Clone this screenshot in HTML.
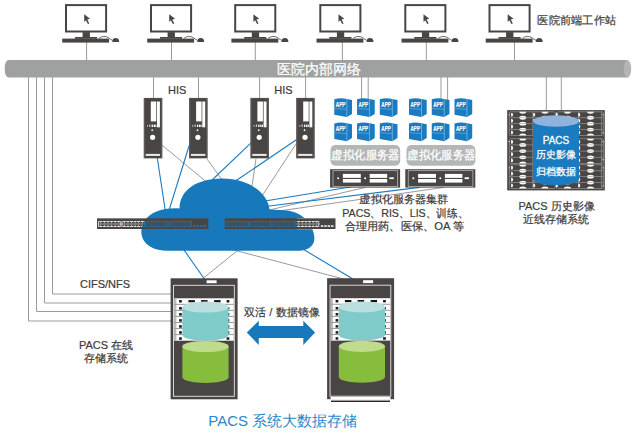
<!DOCTYPE html>
<html><head><meta charset="utf-8">
<style>
html,body{margin:0;padding:0;background:#fff;width:638px;height:438px;overflow:hidden}
svg{display:block}
text{font-family:"Liberation Sans",sans-serif}
.tx{stroke:#3e3a39;stroke-width:0.2}
.tw{stroke:#fff;stroke-width:0.25}
</style></head>
<body>
<svg width="638" height="438" viewBox="0 0 638 438">
<defs>
<g id="pc">
<rect x="1.0" y="1.0" width="40.1" height="26.4" fill="#fff" stroke="#4a4545" stroke-width="2.0"/>
<path d="M19.2 10.1 L25 14.7 L22.3 15.4 L24.3 19.3 L22.9 20 L20.9 16.2 L19.2 18 Z" fill="#4a4545"/>
<rect x="17.6" y="28" width="7.3" height="5.4" fill="#4a4545"/>
<rect x="10" y="32.9" width="22.1" height="1.8" fill="#4a4545"/>
<rect x="-2.8" y="34.5" width="46.9" height="4" fill="#4a4545"/>
<path d="M33.8 34.4 Q38.5 30.6 43.5 33.6 Q45.5 35.6 47.5 36.2" fill="none" stroke="#4a4545" stroke-width="0.8"/>
<path d="M47.2 37.9 Q47.2 33.8 50.7 33.8 Q54.2 33.8 54.2 37.9 Z" fill="#4a4545"/>
</g>
<g id="srv">
<rect x="0" y="0" width="18.7" height="60.5" fill="#5e5a5a"/>
<rect x="1.4" y="0.6" width="15.9" height="59.4" fill="#4a4545"/>
<rect x="7.1" y="3.6" width="5.5" height="19.9" fill="#fff"/>
<rect x="13.3" y="3.6" width="2.9" height="25.8" fill="#fff"/>
<rect x="3.3" y="27.2" width="0.9" height="1.6" fill="#ddd"/>
<rect x="5.6" y="26.7" width="1" height="2.1" fill="#eee"/>
<rect x="7.9" y="26.7" width="1.3" height="2.4" fill="#fff"/>
<rect x="10" y="26.7" width="1.3" height="2.4" fill="#fff"/>
<rect x="11.6" y="26.7" width="1" height="2.4" fill="#fff"/>
<path d="M8.5 31.2 L9.6 32.3 L8.5 33.4 L7.4 32.3 Z" fill="#fff"/>
<circle cx="8.9" cy="39.4" r="2.6" fill="#fff"/>
<rect x="2" y="56" width="14.3" height="2" fill="#ececec"/>
</g>
<g id="app">
<path d="M0 1.4 Q6 -0.5 12.5 1.1 L17.7 2.2 L17.7 16 L12.5 19.1 L0 16.8 Z" fill="#1a7bc0"/>
<path d="M12.5 1.3 L12.5 19" stroke="#8cc0e8" stroke-width="0.7"/>
<text x="6.3" y="9.4" font-size="7.6" font-weight="bold" fill="#fff" stroke="#fff" stroke-width="0.15" text-anchor="middle" textLength="9.6" lengthAdjust="spacingAndGlyphs">APP</text>
<path d="M0.6 10.6 L12.3 11.4" stroke="#8cc0e8" stroke-width="0.5"/>
</g>
<g id="unit">
<rect x="0" y="0" width="70" height="18.4" fill="#4a4545"/>
<rect x="2.9" y="1.5" width="64.7" height="15.8" fill="none" stroke="#c8c6c6" stroke-width="0.7"/>
<rect x="12.8" y="4.7" width="17.9" height="4" fill="#fff"/>
<rect x="12.8" y="9.8" width="17.9" height="3.6" fill="#fff"/>
<rect x="39.6" y="4.7" width="17.5" height="4" fill="#fff"/>
<rect x="39.6" y="9.8" width="17.5" height="3.6" fill="#fff"/>
<circle cx="8" cy="9" r="1" fill="#fff"/>
<circle cx="35" cy="9" r="1" fill="#fff"/>
<rect x="59.3" y="8.1" width="4.4" height="1.8" fill="#fff"/>
</g>
<g id="rack">
<rect x="0" y="0" width="67" height="121" fill="#4a4545"/>
<rect x="36" y="2" width="10" height="2.9" fill="#fff"/>
<rect x="2.95" y="7.0" width="60.75" height="111" fill="none" stroke="#e8e6e6" stroke-width="0.9"/>
<rect x="3.8" y="20" width="59.4" height="42.4" fill="#fff"/>
<rect x="3.8" y="20" width="2" height="42.4" fill="#bbb"/>
<rect x="3.8" y="25.55" width="59.4" height="1" fill="#9a9898"/>
<rect x="3.8" y="31.6" width="59.4" height="1" fill="#9a9898"/>
<rect x="3.8" y="37.65" width="59.4" height="1" fill="#9a9898"/>
<rect x="3.8" y="43.7" width="59.4" height="1" fill="#9a9898"/>
<rect x="3.8" y="49.75" width="59.4" height="1" fill="#9a9898"/>
<rect x="3.8" y="55.8" width="59.4" height="1" fill="#9a9898"/>
<rect x="8.5" y="21.8" width="2.7" height="2.4" fill="#111"/>
<rect x="17.8" y="21.8" width="6.5" height="2.2" fill="#111"/>
<rect x="30.5" y="21.8" width="6.5" height="2.2" fill="#111"/>
<rect x="43.5" y="21.8" width="6.5" height="2.2" fill="#111"/>
<rect x="56" y="21.8" width="2.7" height="2.4" fill="#111"/>
<rect x="8.5" y="28.75" width="2.7" height="2.5" fill="#1a1a1a"/>
<rect x="56" y="28.75" width="2.7" height="2.5" fill="#1a1a1a"/>
<rect x="8.5" y="34.8" width="2.7" height="2.5" fill="#1a1a1a"/>
<rect x="56" y="34.8" width="2.7" height="2.5" fill="#1a1a1a"/>
<rect x="8.5" y="40.85" width="2.7" height="2.5" fill="#1a1a1a"/>
<rect x="56" y="40.85" width="2.7" height="2.5" fill="#1a1a1a"/>
<rect x="8.5" y="46.9" width="2.7" height="2.5" fill="#1a1a1a"/>
<rect x="56" y="46.9" width="2.7" height="2.5" fill="#1a1a1a"/>
<rect x="8.5" y="52.95" width="2.7" height="2.5" fill="#1a1a1a"/>
<rect x="56" y="52.95" width="2.7" height="2.5" fill="#1a1a1a"/>
<rect x="8.5" y="59" width="2.7" height="2.5" fill="#1a1a1a"/>
<rect x="56" y="59" width="2.7" height="2.5" fill="#1a1a1a"/>
</g>
<g id="cyl">
<path d="M0 6 L0 34 A23.1 5.6 0 0 0 46.2 34 L46.2 6 Z" fill="#7ecbc9"/>
<ellipse cx="23.1" cy="6" rx="23.1" ry="5.5" fill="#badfde"/>
<path d="M0 45.4 L0 76.2 A23.1 5.6 0 0 0 46.2 76.2 L46.2 45.4 Z" fill="#86bd3c"/>
<ellipse cx="23.1" cy="45.4" rx="23.1" ry="5.6" fill="#bedc8c"/>
</g>
<mask id="swm1" maskUnits="userSpaceOnUse" x="96.9" y="218.2" width="111.7" height="11">
<rect x="96.9" y="218.2" width="111.7" height="11" fill="#fff"/>
<rect x="98.1" y="223.4" width="94.2" height="1.2" fill="#999"/>
<rect x="98.1" y="221" width="0.8" height="6" fill="#222"/>
<rect x="120.45" y="221" width="0.8" height="6" fill="#222"/>
<rect x="99.3" y="221" width="2.99" height="0.9" fill="#111"/>
<rect x="99.3" y="226.1" width="2.99" height="0.9" fill="#111"/>
<rect x="100.45" y="221.9" width="0.7" height="1.3" fill="#444"/>
<rect x="100.45" y="224.8" width="0.7" height="1.3" fill="#444"/>
<rect x="102.89" y="221" width="2.99" height="0.9" fill="#111"/>
<rect x="102.89" y="226.1" width="2.99" height="0.9" fill="#111"/>
<rect x="104.04" y="221.9" width="0.7" height="1.3" fill="#444"/>
<rect x="104.04" y="224.8" width="0.7" height="1.3" fill="#444"/>
<rect x="106.48" y="221" width="2.99" height="0.9" fill="#111"/>
<rect x="106.48" y="226.1" width="2.99" height="0.9" fill="#111"/>
<rect x="107.63" y="221.9" width="0.7" height="1.3" fill="#444"/>
<rect x="107.63" y="224.8" width="0.7" height="1.3" fill="#444"/>
<rect x="110.08" y="221" width="2.99" height="0.9" fill="#111"/>
<rect x="110.08" y="226.1" width="2.99" height="0.9" fill="#111"/>
<rect x="111.22" y="221.9" width="0.7" height="1.3" fill="#444"/>
<rect x="111.22" y="224.8" width="0.7" height="1.3" fill="#444"/>
<rect x="113.67" y="221" width="2.99" height="0.9" fill="#111"/>
<rect x="113.67" y="226.1" width="2.99" height="0.9" fill="#111"/>
<rect x="114.81" y="221.9" width="0.7" height="1.3" fill="#444"/>
<rect x="114.81" y="224.8" width="0.7" height="1.3" fill="#444"/>
<rect x="117.26" y="221" width="2.99" height="0.9" fill="#111"/>
<rect x="117.26" y="226.1" width="2.99" height="0.9" fill="#111"/>
<rect x="118.4" y="221.9" width="0.7" height="1.3" fill="#444"/>
<rect x="118.4" y="224.8" width="0.7" height="1.3" fill="#444"/>
<rect x="121.65" y="221" width="0.8" height="6" fill="#222"/>
<rect x="144" y="221" width="0.8" height="6" fill="#222"/>
<rect x="122.85" y="221" width="2.99" height="0.9" fill="#111"/>
<rect x="122.85" y="226.1" width="2.99" height="0.9" fill="#111"/>
<rect x="124" y="221.9" width="0.7" height="1.3" fill="#444"/>
<rect x="124" y="224.8" width="0.7" height="1.3" fill="#444"/>
<rect x="126.44" y="221" width="2.99" height="0.9" fill="#111"/>
<rect x="126.44" y="226.1" width="2.99" height="0.9" fill="#111"/>
<rect x="127.59" y="221.9" width="0.7" height="1.3" fill="#444"/>
<rect x="127.59" y="224.8" width="0.7" height="1.3" fill="#444"/>
<rect x="130.03" y="221" width="2.99" height="0.9" fill="#111"/>
<rect x="130.03" y="226.1" width="2.99" height="0.9" fill="#111"/>
<rect x="131.18" y="221.9" width="0.7" height="1.3" fill="#444"/>
<rect x="131.18" y="224.8" width="0.7" height="1.3" fill="#444"/>
<rect x="133.63" y="221" width="2.99" height="0.9" fill="#111"/>
<rect x="133.63" y="226.1" width="2.99" height="0.9" fill="#111"/>
<rect x="134.77" y="221.9" width="0.7" height="1.3" fill="#444"/>
<rect x="134.77" y="224.8" width="0.7" height="1.3" fill="#444"/>
<rect x="137.22" y="221" width="2.99" height="0.9" fill="#111"/>
<rect x="137.22" y="226.1" width="2.99" height="0.9" fill="#111"/>
<rect x="138.36" y="221.9" width="0.7" height="1.3" fill="#444"/>
<rect x="138.36" y="224.8" width="0.7" height="1.3" fill="#444"/>
<rect x="140.81" y="221" width="2.99" height="0.9" fill="#111"/>
<rect x="140.81" y="226.1" width="2.99" height="0.9" fill="#111"/>
<rect x="141.95" y="221.9" width="0.7" height="1.3" fill="#444"/>
<rect x="141.95" y="224.8" width="0.7" height="1.3" fill="#444"/>
<rect x="145.2" y="221" width="0.8" height="6" fill="#222"/>
<rect x="167.55" y="221" width="0.8" height="6" fill="#222"/>
<rect x="146.4" y="221" width="2.99" height="0.9" fill="#111"/>
<rect x="146.4" y="226.1" width="2.99" height="0.9" fill="#111"/>
<rect x="147.55" y="221.9" width="0.7" height="1.3" fill="#444"/>
<rect x="147.55" y="224.8" width="0.7" height="1.3" fill="#444"/>
<rect x="149.99" y="221" width="2.99" height="0.9" fill="#111"/>
<rect x="149.99" y="226.1" width="2.99" height="0.9" fill="#111"/>
<rect x="151.14" y="221.9" width="0.7" height="1.3" fill="#444"/>
<rect x="151.14" y="224.8" width="0.7" height="1.3" fill="#444"/>
<rect x="153.58" y="221" width="2.99" height="0.9" fill="#111"/>
<rect x="153.58" y="226.1" width="2.99" height="0.9" fill="#111"/>
<rect x="154.73" y="221.9" width="0.7" height="1.3" fill="#444"/>
<rect x="154.73" y="224.8" width="0.7" height="1.3" fill="#444"/>
<rect x="157.18" y="221" width="2.99" height="0.9" fill="#111"/>
<rect x="157.18" y="226.1" width="2.99" height="0.9" fill="#111"/>
<rect x="158.32" y="221.9" width="0.7" height="1.3" fill="#444"/>
<rect x="158.32" y="224.8" width="0.7" height="1.3" fill="#444"/>
<rect x="160.77" y="221" width="2.99" height="0.9" fill="#111"/>
<rect x="160.77" y="226.1" width="2.99" height="0.9" fill="#111"/>
<rect x="161.91" y="221.9" width="0.7" height="1.3" fill="#444"/>
<rect x="161.91" y="224.8" width="0.7" height="1.3" fill="#444"/>
<rect x="164.36" y="221" width="2.99" height="0.9" fill="#111"/>
<rect x="164.36" y="226.1" width="2.99" height="0.9" fill="#111"/>
<rect x="165.5" y="221.9" width="0.7" height="1.3" fill="#444"/>
<rect x="165.5" y="224.8" width="0.7" height="1.3" fill="#444"/>
<rect x="168.75" y="221" width="0.8" height="6" fill="#222"/>
<rect x="191.1" y="221" width="0.8" height="6" fill="#222"/>
<rect x="169.95" y="221" width="2.99" height="0.9" fill="#111"/>
<rect x="169.95" y="226.1" width="2.99" height="0.9" fill="#111"/>
<rect x="171.1" y="221.9" width="0.7" height="1.3" fill="#444"/>
<rect x="171.1" y="224.8" width="0.7" height="1.3" fill="#444"/>
<rect x="173.54" y="221" width="2.99" height="0.9" fill="#111"/>
<rect x="173.54" y="226.1" width="2.99" height="0.9" fill="#111"/>
<rect x="174.69" y="221.9" width="0.7" height="1.3" fill="#444"/>
<rect x="174.69" y="224.8" width="0.7" height="1.3" fill="#444"/>
<rect x="177.13" y="221" width="2.99" height="0.9" fill="#111"/>
<rect x="177.13" y="226.1" width="2.99" height="0.9" fill="#111"/>
<rect x="178.28" y="221.9" width="0.7" height="1.3" fill="#444"/>
<rect x="178.28" y="224.8" width="0.7" height="1.3" fill="#444"/>
<rect x="180.73" y="221" width="2.99" height="0.9" fill="#111"/>
<rect x="180.73" y="226.1" width="2.99" height="0.9" fill="#111"/>
<rect x="181.87" y="221.9" width="0.7" height="1.3" fill="#444"/>
<rect x="181.87" y="224.8" width="0.7" height="1.3" fill="#444"/>
<rect x="184.32" y="221" width="2.99" height="0.9" fill="#111"/>
<rect x="184.32" y="226.1" width="2.99" height="0.9" fill="#111"/>
<rect x="185.46" y="221.9" width="0.7" height="1.3" fill="#444"/>
<rect x="185.46" y="224.8" width="0.7" height="1.3" fill="#444"/>
<rect x="187.91" y="221" width="2.99" height="0.9" fill="#111"/>
<rect x="187.91" y="226.1" width="2.99" height="0.9" fill="#111"/>
<rect x="189.05" y="221.9" width="0.7" height="1.3" fill="#444"/>
<rect x="189.05" y="224.8" width="0.7" height="1.3" fill="#444"/>
<rect x="193.4" y="225.3" width="2.5" height="1.5" fill="#000"/>
<rect x="196.8" y="225.3" width="2.5" height="1.5" fill="#000"/>
<rect x="200.2" y="225.3" width="2.5" height="1.5" fill="#000"/>
<rect x="203.6" y="225.3" width="2.5" height="1.5" fill="#000"/>
</mask>
<mask id="swm2" maskUnits="userSpaceOnUse" x="224.4" y="218.2" width="111.3" height="11">
<rect x="224.4" y="218.2" width="111.3" height="11" fill="#fff"/>
<rect x="225.6" y="223.4" width="94" height="1.2" fill="#999"/>
<rect x="225.6" y="221" width="0.8" height="6" fill="#222"/>
<rect x="247.9" y="221" width="0.8" height="6" fill="#222"/>
<rect x="226.8" y="221" width="2.98" height="0.9" fill="#111"/>
<rect x="226.8" y="226.1" width="2.98" height="0.9" fill="#111"/>
<rect x="227.94" y="221.9" width="0.7" height="1.3" fill="#444"/>
<rect x="227.94" y="224.8" width="0.7" height="1.3" fill="#444"/>
<rect x="230.38" y="221" width="2.98" height="0.9" fill="#111"/>
<rect x="230.38" y="226.1" width="2.98" height="0.9" fill="#111"/>
<rect x="231.53" y="221.9" width="0.7" height="1.3" fill="#444"/>
<rect x="231.53" y="224.8" width="0.7" height="1.3" fill="#444"/>
<rect x="233.97" y="221" width="2.98" height="0.9" fill="#111"/>
<rect x="233.97" y="226.1" width="2.98" height="0.9" fill="#111"/>
<rect x="235.11" y="221.9" width="0.7" height="1.3" fill="#444"/>
<rect x="235.11" y="224.8" width="0.7" height="1.3" fill="#444"/>
<rect x="237.55" y="221" width="2.98" height="0.9" fill="#111"/>
<rect x="237.55" y="226.1" width="2.98" height="0.9" fill="#111"/>
<rect x="238.69" y="221.9" width="0.7" height="1.3" fill="#444"/>
<rect x="238.69" y="224.8" width="0.7" height="1.3" fill="#444"/>
<rect x="241.13" y="221" width="2.98" height="0.9" fill="#111"/>
<rect x="241.13" y="226.1" width="2.98" height="0.9" fill="#111"/>
<rect x="242.28" y="221.9" width="0.7" height="1.3" fill="#444"/>
<rect x="242.28" y="224.8" width="0.7" height="1.3" fill="#444"/>
<rect x="244.72" y="221" width="2.98" height="0.9" fill="#111"/>
<rect x="244.72" y="226.1" width="2.98" height="0.9" fill="#111"/>
<rect x="245.86" y="221.9" width="0.7" height="1.3" fill="#444"/>
<rect x="245.86" y="224.8" width="0.7" height="1.3" fill="#444"/>
<rect x="249.1" y="221" width="0.8" height="6" fill="#222"/>
<rect x="271.4" y="221" width="0.8" height="6" fill="#222"/>
<rect x="250.3" y="221" width="2.98" height="0.9" fill="#111"/>
<rect x="250.3" y="226.1" width="2.98" height="0.9" fill="#111"/>
<rect x="251.44" y="221.9" width="0.7" height="1.3" fill="#444"/>
<rect x="251.44" y="224.8" width="0.7" height="1.3" fill="#444"/>
<rect x="253.88" y="221" width="2.98" height="0.9" fill="#111"/>
<rect x="253.88" y="226.1" width="2.98" height="0.9" fill="#111"/>
<rect x="255.03" y="221.9" width="0.7" height="1.3" fill="#444"/>
<rect x="255.03" y="224.8" width="0.7" height="1.3" fill="#444"/>
<rect x="257.47" y="221" width="2.98" height="0.9" fill="#111"/>
<rect x="257.47" y="226.1" width="2.98" height="0.9" fill="#111"/>
<rect x="258.61" y="221.9" width="0.7" height="1.3" fill="#444"/>
<rect x="258.61" y="224.8" width="0.7" height="1.3" fill="#444"/>
<rect x="261.05" y="221" width="2.98" height="0.9" fill="#111"/>
<rect x="261.05" y="226.1" width="2.98" height="0.9" fill="#111"/>
<rect x="262.19" y="221.9" width="0.7" height="1.3" fill="#444"/>
<rect x="262.19" y="224.8" width="0.7" height="1.3" fill="#444"/>
<rect x="264.63" y="221" width="2.98" height="0.9" fill="#111"/>
<rect x="264.63" y="226.1" width="2.98" height="0.9" fill="#111"/>
<rect x="265.77" y="221.9" width="0.7" height="1.3" fill="#444"/>
<rect x="265.77" y="224.8" width="0.7" height="1.3" fill="#444"/>
<rect x="268.22" y="221" width="2.98" height="0.9" fill="#111"/>
<rect x="268.22" y="226.1" width="2.98" height="0.9" fill="#111"/>
<rect x="269.36" y="221.9" width="0.7" height="1.3" fill="#444"/>
<rect x="269.36" y="224.8" width="0.7" height="1.3" fill="#444"/>
<rect x="272.6" y="221" width="0.8" height="6" fill="#222"/>
<rect x="294.9" y="221" width="0.8" height="6" fill="#222"/>
<rect x="273.8" y="221" width="2.98" height="0.9" fill="#111"/>
<rect x="273.8" y="226.1" width="2.98" height="0.9" fill="#111"/>
<rect x="274.94" y="221.9" width="0.7" height="1.3" fill="#444"/>
<rect x="274.94" y="224.8" width="0.7" height="1.3" fill="#444"/>
<rect x="277.38" y="221" width="2.98" height="0.9" fill="#111"/>
<rect x="277.38" y="226.1" width="2.98" height="0.9" fill="#111"/>
<rect x="278.52" y="221.9" width="0.7" height="1.3" fill="#444"/>
<rect x="278.52" y="224.8" width="0.7" height="1.3" fill="#444"/>
<rect x="280.97" y="221" width="2.98" height="0.9" fill="#111"/>
<rect x="280.97" y="226.1" width="2.98" height="0.9" fill="#111"/>
<rect x="282.11" y="221.9" width="0.7" height="1.3" fill="#444"/>
<rect x="282.11" y="224.8" width="0.7" height="1.3" fill="#444"/>
<rect x="284.55" y="221" width="2.98" height="0.9" fill="#111"/>
<rect x="284.55" y="226.1" width="2.98" height="0.9" fill="#111"/>
<rect x="285.69" y="221.9" width="0.7" height="1.3" fill="#444"/>
<rect x="285.69" y="224.8" width="0.7" height="1.3" fill="#444"/>
<rect x="288.13" y="221" width="2.98" height="0.9" fill="#111"/>
<rect x="288.13" y="226.1" width="2.98" height="0.9" fill="#111"/>
<rect x="289.27" y="221.9" width="0.7" height="1.3" fill="#444"/>
<rect x="289.27" y="224.8" width="0.7" height="1.3" fill="#444"/>
<rect x="291.72" y="221" width="2.98" height="0.9" fill="#111"/>
<rect x="291.72" y="226.1" width="2.98" height="0.9" fill="#111"/>
<rect x="292.86" y="221.9" width="0.7" height="1.3" fill="#444"/>
<rect x="292.86" y="224.8" width="0.7" height="1.3" fill="#444"/>
<rect x="296.1" y="221" width="0.8" height="6" fill="#222"/>
<rect x="318.4" y="221" width="0.8" height="6" fill="#222"/>
<rect x="297.3" y="221" width="2.98" height="0.9" fill="#111"/>
<rect x="297.3" y="226.1" width="2.98" height="0.9" fill="#111"/>
<rect x="298.44" y="221.9" width="0.7" height="1.3" fill="#444"/>
<rect x="298.44" y="224.8" width="0.7" height="1.3" fill="#444"/>
<rect x="300.88" y="221" width="2.98" height="0.9" fill="#111"/>
<rect x="300.88" y="226.1" width="2.98" height="0.9" fill="#111"/>
<rect x="302.02" y="221.9" width="0.7" height="1.3" fill="#444"/>
<rect x="302.02" y="224.8" width="0.7" height="1.3" fill="#444"/>
<rect x="304.47" y="221" width="2.98" height="0.9" fill="#111"/>
<rect x="304.47" y="226.1" width="2.98" height="0.9" fill="#111"/>
<rect x="305.61" y="221.9" width="0.7" height="1.3" fill="#444"/>
<rect x="305.61" y="224.8" width="0.7" height="1.3" fill="#444"/>
<rect x="308.05" y="221" width="2.98" height="0.9" fill="#111"/>
<rect x="308.05" y="226.1" width="2.98" height="0.9" fill="#111"/>
<rect x="309.19" y="221.9" width="0.7" height="1.3" fill="#444"/>
<rect x="309.19" y="224.8" width="0.7" height="1.3" fill="#444"/>
<rect x="311.63" y="221" width="2.98" height="0.9" fill="#111"/>
<rect x="311.63" y="226.1" width="2.98" height="0.9" fill="#111"/>
<rect x="312.77" y="221.9" width="0.7" height="1.3" fill="#444"/>
<rect x="312.77" y="224.8" width="0.7" height="1.3" fill="#444"/>
<rect x="315.22" y="221" width="2.98" height="0.9" fill="#111"/>
<rect x="315.22" y="226.1" width="2.98" height="0.9" fill="#111"/>
<rect x="316.36" y="221.9" width="0.7" height="1.3" fill="#444"/>
<rect x="316.36" y="224.8" width="0.7" height="1.3" fill="#444"/>
<rect x="320.8" y="225.3" width="2.5" height="1.5" fill="#000"/>
<rect x="324.2" y="225.3" width="2.5" height="1.5" fill="#000"/>
<rect x="327.6" y="225.3" width="2.5" height="1.5" fill="#000"/>
<rect x="331" y="225.3" width="2.5" height="1.5" fill="#000"/>
</mask>
</defs>
<g stroke="#999b9a" stroke-width="1" fill="none">
<line x1="86.6" y1="42" x2="86.6" y2="60"/>
<line x1="171.5" y1="42" x2="171.5" y2="60"/>
<line x1="255.3" y1="42" x2="255.3" y2="60"/>
<line x1="342.4" y1="42" x2="342.4" y2="60"/>
<line x1="426.3" y1="42" x2="426.3" y2="60"/>
<line x1="514.5" y1="42" x2="514.5" y2="60"/>
<line x1="153.5" y1="77" x2="153.5" y2="99"/>
<line x1="198.5" y1="77" x2="198.5" y2="99"/>
<line x1="259.6" y1="77" x2="259.6" y2="99"/>
<line x1="305.6" y1="77" x2="305.6" y2="99"/>
<line x1="361.6" y1="77" x2="361.6" y2="100"/>
<line x1="368.2" y1="77" x2="368.2" y2="100"/>
<line x1="441" y1="77" x2="441" y2="100"/>
<line x1="447.6" y1="77" x2="447.6" y2="100"/>
<line x1="546.3" y1="77" x2="546.3" y2="111"/>
<line x1="561.3" y1="77" x2="561.3" y2="111"/>
<polyline points="52.5,77 52.5,294 172,294"/>
<polyline points="44.5,77 44.5,303 172,303"/>
<polyline points="36.5,77 36.5,311.5 172,311.5"/>
<polyline points="28.5,77 28.5,321 172,321"/>
</g>
<g stroke="#9a9a9a" stroke-width="1" fill="none">
<line x1="161.6" y1="144.8" x2="215" y2="189"/>
<line x1="207" y1="159" x2="225" y2="184"/>
<line x1="256" y1="159" x2="252" y2="186"/>
<line x1="297" y1="142.4" x2="262" y2="196"/>
<line x1="364.8" y1="187.5" x2="265" y2="211"/>
<line x1="443.8" y1="187.4" x2="265" y2="213"/>
<line x1="243.2" y1="246" x2="202.2" y2="279"/>
<line x1="218.5" y1="246" x2="343.6" y2="279"/>
</g>
<g stroke="#1a7bc0" stroke-width="1.1" fill="none">
<line x1="157.3" y1="158" x2="165.5" y2="212"/>
<line x1="189.2" y1="145.5" x2="168.5" y2="212"/>
<line x1="251.6" y1="142.4" x2="210" y2="182"/>
<line x1="297.1" y1="139.3" x2="234" y2="182"/>
<line x1="351.7" y1="186.8" x2="265" y2="201"/>
<line x1="419.7" y1="187.4" x2="265" y2="206.5"/>
<line x1="181.2" y1="246" x2="204.4" y2="279"/>
<line x1="297.8" y1="246" x2="352.9" y2="279"/>
</g>
<path d="M9 60 L627.5 60 L627.5 77.5 L9 77.5 Q4.7 77.5 4.7 68.75 Q4.7 60 9 60 Z" fill="#9fa1a0"/>
<ellipse cx="627.5" cy="68.75" rx="3.7" ry="8.75" fill="#b4b6b5"/>
<text x="318.5" y="73.8" font-size="14" fill="#fff" class="tw" text-anchor="middle">医院内部网络</text>
<use href="#pc" x="65" y="4.1"/>
<use href="#pc" x="150" y="4.1"/>
<use href="#pc" x="234.2" y="4.1"/>
<use href="#pc" x="319.3" y="4.1"/>
<use href="#pc" x="404.3" y="4.1"/>
<use href="#pc" x="488.5" y="4.1"/>
<text x="537.4" y="23.6" font-size="11.35" textLength="78.6" lengthAdjust="spacingAndGlyphs" fill="#3e3a39" class="tx">医院前端工作站</text>
<use href="#srv" x="143.7" y="97.9"/>
<use href="#srv" x="189" y="97.9"/>
<use href="#srv" x="250.3" y="97.9"/>
<use href="#srv" x="296.1" y="97.9"/>
<text x="168" y="93.6" font-size="11" fill="#3e3a39" class="tx">HIS</text>
<text x="274.3" y="93.6" font-size="11" fill="#3e3a39" class="tx">HIS</text>
<use href="#app" x="334.3" y="97.9"/>
<use href="#app" x="357.05" y="97.9"/>
<use href="#app" x="379.8" y="97.9"/>
<use href="#app" x="334.3" y="122.1"/>
<use href="#app" x="357.05" y="122.1"/>
<use href="#app" x="379.8" y="122.1"/>
<use href="#app" x="409" y="97.9"/>
<use href="#app" x="431.75" y="97.9"/>
<use href="#app" x="454.5" y="97.9"/>
<use href="#app" x="409" y="122.1"/>
<use href="#app" x="431.75" y="122.1"/>
<use href="#app" x="454.5" y="122.1"/>
<rect x="330.5" y="145" width="69.7" height="20.8" rx="5" fill="#b5b6b6"/>
<rect x="406.5" y="145" width="68.9" height="20.8" rx="5" fill="#b5b6b6"/>
<text x="331.4" y="159.3" font-size="12" fill="#fff" class="tw" textLength="68.3" lengthAdjust="spacingAndGlyphs">虚拟化服务器</text>
<text x="407.2" y="159.3" font-size="12" fill="#fff" class="tw" textLength="68.3" lengthAdjust="spacingAndGlyphs">虚拟化服务器</text>
<use href="#unit" x="330.1" y="169.2"/>
<use href="#unit" x="405.3" y="169.2"/>
<rect x="507.2" y="110.1" width="97.6" height="80.3" fill="#4a4545"/>
<rect x="509.3" y="111.8" width="45.8" height="23.72" rx="1.2" fill="none" stroke="#8e8a8a" stroke-width="0.8"/>
<rect x="509.3" y="117.33" width="45.8" height="0.8" fill="#8e8a8a"/>
<rect x="509.3" y="123.26" width="45.8" height="0.8" fill="#8e8a8a"/>
<rect x="509.3" y="129.19" width="45.8" height="0.8" fill="#8e8a8a"/>
<rect x="557.6" y="111.8" width="45.8" height="23.72" rx="1.2" fill="none" stroke="#8e8a8a" stroke-width="0.8"/>
<rect x="557.6" y="117.33" width="45.8" height="0.8" fill="#8e8a8a"/>
<rect x="557.6" y="123.26" width="45.8" height="0.8" fill="#8e8a8a"/>
<rect x="557.6" y="129.19" width="45.8" height="0.8" fill="#8e8a8a"/>
<rect x="532.4" y="111.8" width="0.8" height="23.72" fill="#8e8a8a"/>
<rect x="555.9" y="111.8" width="0.8" height="23.72" fill="#8e8a8a"/>
<rect x="578.1" y="111.8" width="0.8" height="23.72" fill="#8e8a8a"/>
<rect x="600.9" y="111.8" width="0.8" height="23.72" fill="#8e8a8a"/>
<path d="M511.1 113 L512.3 113 Q514.1 114.77 512.3 116.53 L511.1 116.53 Z" fill="#fff"/>
<path d="M533.3 113 L534.5 113 Q536.3 114.77 534.5 116.53 L533.3 116.53 Z" fill="#fff"/>
<path d="M555.8 113 L557 113 Q558.8 114.77 557 116.53 L555.8 116.53 Z" fill="#fff"/>
<path d="M578.3 113 L579.5 113 Q581.3 114.77 579.5 116.53 L578.3 116.53 Z" fill="#fff"/>
<path d="M511.1 118.93 L512.3 118.93 Q514.1 120.69 512.3 122.46 L511.1 122.46 Z" fill="#fff"/>
<path d="M533.3 118.93 L534.5 118.93 Q536.3 120.69 534.5 122.46 L533.3 122.46 Z" fill="#fff"/>
<path d="M555.8 118.93 L557 118.93 Q558.8 120.69 557 122.46 L555.8 122.46 Z" fill="#fff"/>
<path d="M578.3 118.93 L579.5 118.93 Q581.3 120.69 579.5 122.46 L578.3 122.46 Z" fill="#fff"/>
<path d="M511.1 124.86 L512.3 124.86 Q514.1 126.62 512.3 128.39 L511.1 128.39 Z" fill="#fff"/>
<path d="M533.3 124.86 L534.5 124.86 Q536.3 126.62 534.5 128.39 L533.3 128.39 Z" fill="#fff"/>
<path d="M555.8 124.86 L557 124.86 Q558.8 126.62 557 128.39 L555.8 128.39 Z" fill="#fff"/>
<path d="M578.3 124.86 L579.5 124.86 Q581.3 126.62 579.5 128.39 L578.3 128.39 Z" fill="#fff"/>
<path d="M511.1 130.79 L512.3 130.79 Q514.1 132.56 512.3 134.32 L511.1 134.32 Z" fill="#fff"/>
<path d="M533.3 130.79 L534.5 130.79 Q536.3 132.56 534.5 134.32 L533.3 134.32 Z" fill="#fff"/>
<path d="M555.8 130.79 L557 130.79 Q558.8 132.56 557 134.32 L555.8 134.32 Z" fill="#fff"/>
<path d="M578.3 130.79 L579.5 130.79 Q581.3 132.56 579.5 134.32 L578.3 134.32 Z" fill="#fff"/>
<clipPath id="hsc0"><rect x="507.2" y="111.8" width="97.6" height="23.72"/></clipPath><g clip-path="url(#hsc0)">
<ellipse cx="522.8" cy="111.8" rx="3.4" ry="1.9" fill="#fff"/>
<rect x="519.4" y="111.45" width="6.8" height="0.7" fill="#aaa"/>
<ellipse cx="545" cy="111.8" rx="3.4" ry="1.9" fill="#fff"/>
<rect x="541.6" y="111.45" width="6.8" height="0.7" fill="#aaa"/>
<ellipse cx="567.5" cy="111.8" rx="3.4" ry="1.9" fill="#fff"/>
<rect x="564.1" y="111.45" width="6.8" height="0.7" fill="#aaa"/>
<ellipse cx="590.5" cy="111.8" rx="3.4" ry="1.9" fill="#fff"/>
<rect x="587.1" y="111.45" width="6.8" height="0.7" fill="#aaa"/>
<ellipse cx="522.8" cy="117.73" rx="3.4" ry="1.9" fill="#fff"/>
<rect x="519.4" y="117.38" width="6.8" height="0.7" fill="#aaa"/>
<ellipse cx="545" cy="117.73" rx="3.4" ry="1.9" fill="#fff"/>
<rect x="541.6" y="117.38" width="6.8" height="0.7" fill="#aaa"/>
<ellipse cx="567.5" cy="117.73" rx="3.4" ry="1.9" fill="#fff"/>
<rect x="564.1" y="117.38" width="6.8" height="0.7" fill="#aaa"/>
<ellipse cx="590.5" cy="117.73" rx="3.4" ry="1.9" fill="#fff"/>
<rect x="587.1" y="117.38" width="6.8" height="0.7" fill="#aaa"/>
<ellipse cx="522.8" cy="123.66" rx="3.4" ry="1.9" fill="#fff"/>
<rect x="519.4" y="123.31" width="6.8" height="0.7" fill="#aaa"/>
<ellipse cx="545" cy="123.66" rx="3.4" ry="1.9" fill="#fff"/>
<rect x="541.6" y="123.31" width="6.8" height="0.7" fill="#aaa"/>
<ellipse cx="567.5" cy="123.66" rx="3.4" ry="1.9" fill="#fff"/>
<rect x="564.1" y="123.31" width="6.8" height="0.7" fill="#aaa"/>
<ellipse cx="590.5" cy="123.66" rx="3.4" ry="1.9" fill="#fff"/>
<rect x="587.1" y="123.31" width="6.8" height="0.7" fill="#aaa"/>
<ellipse cx="522.8" cy="129.59" rx="3.4" ry="1.9" fill="#fff"/>
<rect x="519.4" y="129.24" width="6.8" height="0.7" fill="#aaa"/>
<ellipse cx="545" cy="129.59" rx="3.4" ry="1.9" fill="#fff"/>
<rect x="541.6" y="129.24" width="6.8" height="0.7" fill="#aaa"/>
<ellipse cx="567.5" cy="129.59" rx="3.4" ry="1.9" fill="#fff"/>
<rect x="564.1" y="129.24" width="6.8" height="0.7" fill="#aaa"/>
<ellipse cx="590.5" cy="129.59" rx="3.4" ry="1.9" fill="#fff"/>
<rect x="587.1" y="129.24" width="6.8" height="0.7" fill="#aaa"/>
<ellipse cx="522.8" cy="135.52" rx="3.4" ry="1.9" fill="#fff"/>
<rect x="519.4" y="135.17" width="6.8" height="0.7" fill="#aaa"/>
<ellipse cx="545" cy="135.52" rx="3.4" ry="1.9" fill="#fff"/>
<rect x="541.6" y="135.17" width="6.8" height="0.7" fill="#aaa"/>
<ellipse cx="567.5" cy="135.52" rx="3.4" ry="1.9" fill="#fff"/>
<rect x="564.1" y="135.17" width="6.8" height="0.7" fill="#aaa"/>
<ellipse cx="590.5" cy="135.52" rx="3.4" ry="1.9" fill="#fff"/>
<rect x="587.1" y="135.17" width="6.8" height="0.7" fill="#aaa"/>
</g>
<circle cx="509.2" cy="114.8" r="0.6" fill="#fff"/>
<circle cx="603" cy="114.8" r="0.6" fill="#fff"/>
<circle cx="603" cy="132.8" r="0.6" fill="#fff"/>
<rect x="509.3" y="138.7" width="45.8" height="24.8" rx="1.2" fill="none" stroke="#8e8a8a" stroke-width="0.8"/>
<rect x="509.3" y="144.5" width="45.8" height="0.8" fill="#8e8a8a"/>
<rect x="509.3" y="150.7" width="45.8" height="0.8" fill="#8e8a8a"/>
<rect x="509.3" y="156.9" width="45.8" height="0.8" fill="#8e8a8a"/>
<rect x="557.6" y="138.7" width="45.8" height="24.8" rx="1.2" fill="none" stroke="#8e8a8a" stroke-width="0.8"/>
<rect x="557.6" y="144.5" width="45.8" height="0.8" fill="#8e8a8a"/>
<rect x="557.6" y="150.7" width="45.8" height="0.8" fill="#8e8a8a"/>
<rect x="557.6" y="156.9" width="45.8" height="0.8" fill="#8e8a8a"/>
<rect x="532.4" y="138.7" width="0.8" height="24.8" fill="#8e8a8a"/>
<rect x="555.9" y="138.7" width="0.8" height="24.8" fill="#8e8a8a"/>
<rect x="578.1" y="138.7" width="0.8" height="24.8" fill="#8e8a8a"/>
<rect x="600.9" y="138.7" width="0.8" height="24.8" fill="#8e8a8a"/>
<path d="M511.1 139.9 L512.3 139.9 Q514.1 141.8 512.3 143.7 L511.1 143.7 Z" fill="#fff"/>
<path d="M533.3 139.9 L534.5 139.9 Q536.3 141.8 534.5 143.7 L533.3 143.7 Z" fill="#fff"/>
<path d="M555.8 139.9 L557 139.9 Q558.8 141.8 557 143.7 L555.8 143.7 Z" fill="#fff"/>
<path d="M578.3 139.9 L579.5 139.9 Q581.3 141.8 579.5 143.7 L578.3 143.7 Z" fill="#fff"/>
<path d="M511.1 146.1 L512.3 146.1 Q514.1 148 512.3 149.9 L511.1 149.9 Z" fill="#fff"/>
<path d="M533.3 146.1 L534.5 146.1 Q536.3 148 534.5 149.9 L533.3 149.9 Z" fill="#fff"/>
<path d="M555.8 146.1 L557 146.1 Q558.8 148 557 149.9 L555.8 149.9 Z" fill="#fff"/>
<path d="M578.3 146.1 L579.5 146.1 Q581.3 148 579.5 149.9 L578.3 149.9 Z" fill="#fff"/>
<path d="M511.1 152.3 L512.3 152.3 Q514.1 154.2 512.3 156.1 L511.1 156.1 Z" fill="#fff"/>
<path d="M533.3 152.3 L534.5 152.3 Q536.3 154.2 534.5 156.1 L533.3 156.1 Z" fill="#fff"/>
<path d="M555.8 152.3 L557 152.3 Q558.8 154.2 557 156.1 L555.8 156.1 Z" fill="#fff"/>
<path d="M578.3 152.3 L579.5 152.3 Q581.3 154.2 579.5 156.1 L578.3 156.1 Z" fill="#fff"/>
<path d="M511.1 158.5 L512.3 158.5 Q514.1 160.4 512.3 162.3 L511.1 162.3 Z" fill="#fff"/>
<path d="M533.3 158.5 L534.5 158.5 Q536.3 160.4 534.5 162.3 L533.3 162.3 Z" fill="#fff"/>
<path d="M555.8 158.5 L557 158.5 Q558.8 160.4 557 162.3 L555.8 162.3 Z" fill="#fff"/>
<path d="M578.3 158.5 L579.5 158.5 Q581.3 160.4 579.5 162.3 L578.3 162.3 Z" fill="#fff"/>
<clipPath id="hsc1"><rect x="507.2" y="138.7" width="97.6" height="24.8"/></clipPath><g clip-path="url(#hsc1)">
<ellipse cx="522.8" cy="138.7" rx="3.4" ry="1.9" fill="#fff"/>
<rect x="519.4" y="138.35" width="6.8" height="0.7" fill="#aaa"/>
<ellipse cx="545" cy="138.7" rx="3.4" ry="1.9" fill="#fff"/>
<rect x="541.6" y="138.35" width="6.8" height="0.7" fill="#aaa"/>
<ellipse cx="567.5" cy="138.7" rx="3.4" ry="1.9" fill="#fff"/>
<rect x="564.1" y="138.35" width="6.8" height="0.7" fill="#aaa"/>
<ellipse cx="590.5" cy="138.7" rx="3.4" ry="1.9" fill="#fff"/>
<rect x="587.1" y="138.35" width="6.8" height="0.7" fill="#aaa"/>
<ellipse cx="522.8" cy="144.9" rx="3.4" ry="1.9" fill="#fff"/>
<rect x="519.4" y="144.55" width="6.8" height="0.7" fill="#aaa"/>
<ellipse cx="545" cy="144.9" rx="3.4" ry="1.9" fill="#fff"/>
<rect x="541.6" y="144.55" width="6.8" height="0.7" fill="#aaa"/>
<ellipse cx="567.5" cy="144.9" rx="3.4" ry="1.9" fill="#fff"/>
<rect x="564.1" y="144.55" width="6.8" height="0.7" fill="#aaa"/>
<ellipse cx="590.5" cy="144.9" rx="3.4" ry="1.9" fill="#fff"/>
<rect x="587.1" y="144.55" width="6.8" height="0.7" fill="#aaa"/>
<ellipse cx="522.8" cy="151.1" rx="3.4" ry="1.9" fill="#fff"/>
<rect x="519.4" y="150.75" width="6.8" height="0.7" fill="#aaa"/>
<ellipse cx="545" cy="151.1" rx="3.4" ry="1.9" fill="#fff"/>
<rect x="541.6" y="150.75" width="6.8" height="0.7" fill="#aaa"/>
<ellipse cx="567.5" cy="151.1" rx="3.4" ry="1.9" fill="#fff"/>
<rect x="564.1" y="150.75" width="6.8" height="0.7" fill="#aaa"/>
<ellipse cx="590.5" cy="151.1" rx="3.4" ry="1.9" fill="#fff"/>
<rect x="587.1" y="150.75" width="6.8" height="0.7" fill="#aaa"/>
<ellipse cx="522.8" cy="157.3" rx="3.4" ry="1.9" fill="#fff"/>
<rect x="519.4" y="156.95" width="6.8" height="0.7" fill="#aaa"/>
<ellipse cx="545" cy="157.3" rx="3.4" ry="1.9" fill="#fff"/>
<rect x="541.6" y="156.95" width="6.8" height="0.7" fill="#aaa"/>
<ellipse cx="567.5" cy="157.3" rx="3.4" ry="1.9" fill="#fff"/>
<rect x="564.1" y="156.95" width="6.8" height="0.7" fill="#aaa"/>
<ellipse cx="590.5" cy="157.3" rx="3.4" ry="1.9" fill="#fff"/>
<rect x="587.1" y="156.95" width="6.8" height="0.7" fill="#aaa"/>
<ellipse cx="522.8" cy="163.5" rx="3.4" ry="1.9" fill="#fff"/>
<rect x="519.4" y="163.15" width="6.8" height="0.7" fill="#aaa"/>
<ellipse cx="545" cy="163.5" rx="3.4" ry="1.9" fill="#fff"/>
<rect x="541.6" y="163.15" width="6.8" height="0.7" fill="#aaa"/>
<ellipse cx="567.5" cy="163.5" rx="3.4" ry="1.9" fill="#fff"/>
<rect x="564.1" y="163.15" width="6.8" height="0.7" fill="#aaa"/>
<ellipse cx="590.5" cy="163.5" rx="3.4" ry="1.9" fill="#fff"/>
<rect x="587.1" y="163.15" width="6.8" height="0.7" fill="#aaa"/>
</g>
<circle cx="509.2" cy="141.7" r="0.6" fill="#fff"/>
<circle cx="603" cy="141.7" r="0.6" fill="#fff"/>
<circle cx="603" cy="159.7" r="0.6" fill="#fff"/>
<rect x="509.3" y="164.8" width="45.8" height="23.72" rx="1.2" fill="none" stroke="#8e8a8a" stroke-width="0.8"/>
<rect x="509.3" y="170.33" width="45.8" height="0.8" fill="#8e8a8a"/>
<rect x="509.3" y="176.26" width="45.8" height="0.8" fill="#8e8a8a"/>
<rect x="509.3" y="182.19" width="45.8" height="0.8" fill="#8e8a8a"/>
<rect x="557.6" y="164.8" width="45.8" height="23.72" rx="1.2" fill="none" stroke="#8e8a8a" stroke-width="0.8"/>
<rect x="557.6" y="170.33" width="45.8" height="0.8" fill="#8e8a8a"/>
<rect x="557.6" y="176.26" width="45.8" height="0.8" fill="#8e8a8a"/>
<rect x="557.6" y="182.19" width="45.8" height="0.8" fill="#8e8a8a"/>
<rect x="532.4" y="164.8" width="0.8" height="23.72" fill="#8e8a8a"/>
<rect x="555.9" y="164.8" width="0.8" height="23.72" fill="#8e8a8a"/>
<rect x="578.1" y="164.8" width="0.8" height="23.72" fill="#8e8a8a"/>
<rect x="600.9" y="164.8" width="0.8" height="23.72" fill="#8e8a8a"/>
<path d="M511.1 166 L512.3 166 Q514.1 167.77 512.3 169.53 L511.1 169.53 Z" fill="#fff"/>
<path d="M533.3 166 L534.5 166 Q536.3 167.77 534.5 169.53 L533.3 169.53 Z" fill="#fff"/>
<path d="M555.8 166 L557 166 Q558.8 167.77 557 169.53 L555.8 169.53 Z" fill="#fff"/>
<path d="M578.3 166 L579.5 166 Q581.3 167.77 579.5 169.53 L578.3 169.53 Z" fill="#fff"/>
<path d="M511.1 171.93 L512.3 171.93 Q514.1 173.7 512.3 175.46 L511.1 175.46 Z" fill="#fff"/>
<path d="M533.3 171.93 L534.5 171.93 Q536.3 173.7 534.5 175.46 L533.3 175.46 Z" fill="#fff"/>
<path d="M555.8 171.93 L557 171.93 Q558.8 173.7 557 175.46 L555.8 175.46 Z" fill="#fff"/>
<path d="M578.3 171.93 L579.5 171.93 Q581.3 173.7 579.5 175.46 L578.3 175.46 Z" fill="#fff"/>
<path d="M511.1 177.86 L512.3 177.86 Q514.1 179.63 512.3 181.39 L511.1 181.39 Z" fill="#fff"/>
<path d="M533.3 177.86 L534.5 177.86 Q536.3 179.63 534.5 181.39 L533.3 181.39 Z" fill="#fff"/>
<path d="M555.8 177.86 L557 177.86 Q558.8 179.63 557 181.39 L555.8 181.39 Z" fill="#fff"/>
<path d="M578.3 177.86 L579.5 177.86 Q581.3 179.63 579.5 181.39 L578.3 181.39 Z" fill="#fff"/>
<path d="M511.1 183.79 L512.3 183.79 Q514.1 185.56 512.3 187.32 L511.1 187.32 Z" fill="#fff"/>
<path d="M533.3 183.79 L534.5 183.79 Q536.3 185.56 534.5 187.32 L533.3 187.32 Z" fill="#fff"/>
<path d="M555.8 183.79 L557 183.79 Q558.8 185.56 557 187.32 L555.8 187.32 Z" fill="#fff"/>
<path d="M578.3 183.79 L579.5 183.79 Q581.3 185.56 579.5 187.32 L578.3 187.32 Z" fill="#fff"/>
<clipPath id="hsc2"><rect x="507.2" y="164.8" width="97.6" height="23.72"/></clipPath><g clip-path="url(#hsc2)">
<ellipse cx="522.8" cy="164.8" rx="3.4" ry="1.9" fill="#fff"/>
<rect x="519.4" y="164.45" width="6.8" height="0.7" fill="#aaa"/>
<ellipse cx="545" cy="164.8" rx="3.4" ry="1.9" fill="#fff"/>
<rect x="541.6" y="164.45" width="6.8" height="0.7" fill="#aaa"/>
<ellipse cx="567.5" cy="164.8" rx="3.4" ry="1.9" fill="#fff"/>
<rect x="564.1" y="164.45" width="6.8" height="0.7" fill="#aaa"/>
<ellipse cx="590.5" cy="164.8" rx="3.4" ry="1.9" fill="#fff"/>
<rect x="587.1" y="164.45" width="6.8" height="0.7" fill="#aaa"/>
<ellipse cx="522.8" cy="170.73" rx="3.4" ry="1.9" fill="#fff"/>
<rect x="519.4" y="170.38" width="6.8" height="0.7" fill="#aaa"/>
<ellipse cx="545" cy="170.73" rx="3.4" ry="1.9" fill="#fff"/>
<rect x="541.6" y="170.38" width="6.8" height="0.7" fill="#aaa"/>
<ellipse cx="567.5" cy="170.73" rx="3.4" ry="1.9" fill="#fff"/>
<rect x="564.1" y="170.38" width="6.8" height="0.7" fill="#aaa"/>
<ellipse cx="590.5" cy="170.73" rx="3.4" ry="1.9" fill="#fff"/>
<rect x="587.1" y="170.38" width="6.8" height="0.7" fill="#aaa"/>
<ellipse cx="522.8" cy="176.66" rx="3.4" ry="1.9" fill="#fff"/>
<rect x="519.4" y="176.31" width="6.8" height="0.7" fill="#aaa"/>
<ellipse cx="545" cy="176.66" rx="3.4" ry="1.9" fill="#fff"/>
<rect x="541.6" y="176.31" width="6.8" height="0.7" fill="#aaa"/>
<ellipse cx="567.5" cy="176.66" rx="3.4" ry="1.9" fill="#fff"/>
<rect x="564.1" y="176.31" width="6.8" height="0.7" fill="#aaa"/>
<ellipse cx="590.5" cy="176.66" rx="3.4" ry="1.9" fill="#fff"/>
<rect x="587.1" y="176.31" width="6.8" height="0.7" fill="#aaa"/>
<ellipse cx="522.8" cy="182.59" rx="3.4" ry="1.9" fill="#fff"/>
<rect x="519.4" y="182.24" width="6.8" height="0.7" fill="#aaa"/>
<ellipse cx="545" cy="182.59" rx="3.4" ry="1.9" fill="#fff"/>
<rect x="541.6" y="182.24" width="6.8" height="0.7" fill="#aaa"/>
<ellipse cx="567.5" cy="182.59" rx="3.4" ry="1.9" fill="#fff"/>
<rect x="564.1" y="182.24" width="6.8" height="0.7" fill="#aaa"/>
<ellipse cx="590.5" cy="182.59" rx="3.4" ry="1.9" fill="#fff"/>
<rect x="587.1" y="182.24" width="6.8" height="0.7" fill="#aaa"/>
<ellipse cx="522.8" cy="188.52" rx="3.4" ry="1.9" fill="#fff"/>
<rect x="519.4" y="188.17" width="6.8" height="0.7" fill="#aaa"/>
<ellipse cx="545" cy="188.52" rx="3.4" ry="1.9" fill="#fff"/>
<rect x="541.6" y="188.17" width="6.8" height="0.7" fill="#aaa"/>
<ellipse cx="567.5" cy="188.52" rx="3.4" ry="1.9" fill="#fff"/>
<rect x="564.1" y="188.17" width="6.8" height="0.7" fill="#aaa"/>
<ellipse cx="590.5" cy="188.52" rx="3.4" ry="1.9" fill="#fff"/>
<rect x="587.1" y="188.17" width="6.8" height="0.7" fill="#aaa"/>
</g>
<circle cx="509.2" cy="167.8" r="0.6" fill="#fff"/>
<circle cx="603" cy="167.8" r="0.6" fill="#fff"/>
<circle cx="603" cy="185.8" r="0.6" fill="#fff"/>
<path d="M533 121 L533 179.3 A23 5.8 0 0 0 579 179.3 L579 121 Z" fill="#1a7bc0"/>
<ellipse cx="556" cy="121" rx="23" ry="5.8" fill="#8fb3dd"/>
<text x="556" y="143.5" font-size="10" fill="#fff" class="tw" style="stroke-width:0.3" text-anchor="middle">PACS</text>
<text x="556" y="158.4" font-size="10.3" fill="#fff" class="tw" style="stroke-width:0.25" text-anchor="middle">历史影像</text>
<text x="556" y="174.9" font-size="10.3" fill="#fff" class="tw" style="stroke-width:0.25" text-anchor="middle">归档数据</text>
<text x="556.5" y="210.3" font-size="11" fill="#3e3a39" class="tx" text-anchor="middle">PACS 历史影像</text>
<text x="556" y="222.6" font-size="11" fill="#3e3a39" class="tx" text-anchor="middle">近线存储系统</text>
<path d="M167.6 250.7 L299.9 250.7 C310 250.5 315 244 314.3 237 C313.5 226 305 214 290 211 C283 209.8 276 209.6 269.5 209.4 C268 194 250 178.5 222 178.6 C196 179 180 190 179.5 208.5 C165 207.5 150 211 144 222 C139 231 141 241 150 246.5 C155 249.5 161 250.7 167.6 250.7 Z" fill="#1779bb"/>
<rect x="96.9" y="218.2" width="111.7" height="11" fill="#4a4545" mask="url(#swm1)"/>
<rect x="297" y="218.2" width="39" height="11" fill="#fff"/>
<rect x="224.4" y="218.2" width="111.3" height="11" fill="#4a4545" mask="url(#swm2)"/>
<text x="359.4" y="202.8" font-size="11.3" fill="#3e3a39" class="tx" textLength="89" lengthAdjust="spacingAndGlyphs">虚拟化服务器集群</text>
<text x="342.2" y="216.8" font-size="11" fill="#3e3a39" class="tx" textLength="126.3" lengthAdjust="spacingAndGlyphs">PACS、RIS、LIS、训练、</text>
<text x="344.6" y="230.4" font-size="11" fill="#3e3a39" class="tx" textLength="119.6" lengthAdjust="spacingAndGlyphs">合理用药、医保、OA 等</text>
<use href="#rack" x="170.6" y="278.3"/>
<use href="#rack" x="327.1" y="278.2"/>
<rect x="330.5" y="396.9" width="60" height="2.6" fill="#fff"/>
<rect x="331" y="400.6" width="59" height="1.3" fill="#111"/>
<use href="#cyl" x="182.4" y="301.1"/>
<use href="#cyl" x="338.8" y="300.9"/>
<text x="80" y="288" font-size="11" fill="#3e3a39" class="tx">CIFS/NFS</text>
<text x="106" y="348.5" font-size="11" fill="#3e3a39" class="tx" text-anchor="middle">PACS 在线</text>
<text x="106" y="362.3" font-size="11" fill="#3e3a39" class="tx" text-anchor="middle">存储系统</text>
<path d="M246.8 332.4 L258.8 320.8 L258.8 325.9 L303.3 325.9 L303.3 320.8 L315.1 332.4 L303.3 345 L303.3 338.1 L258.8 338.1 L258.8 345 Z" fill="#1779bb"/>
<text x="281.9" y="316.2" font-size="11.3" fill="#3e3a39" class="tx" text-anchor="middle">双活 / 数据镜像</text>
<text x="208.3" y="426" font-size="15" fill="#2a88cc">PACS 系统大数据存储</text>
</svg>
</body></html>
